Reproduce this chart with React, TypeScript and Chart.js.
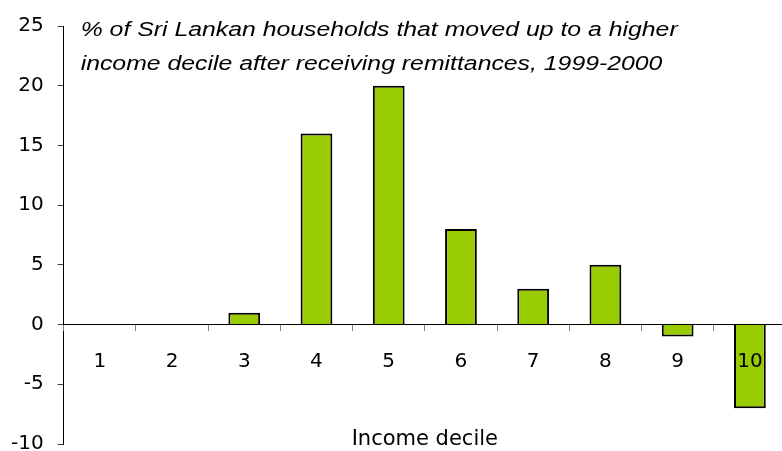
import React, { useEffect, useRef } from 'react';
import { Chart, registerables } from 'chart.js';

Chart.register(...registerables);

const categories = ['1', '2', '3', '4', '5', '6', '7', '8', '9', '10'];
const values = [0, 0, 1, 16, 20, 8, 3, 5, -1, -7];
const yMin = -10;
const yMax = 25;
const yStep = 5;
const titleLines = [
  '% of Sri Lankan households that moved up to a higher',
  'income decile after receiving remittances, 1999-2000',
];
const xTitle = 'Income decile';

const chartTexts = {
  id: 'chartTexts',
  afterDraw(chart: any) {
    const ctx = chart.ctx;
    const area = chart.chartArea;
    ctx.save();
    ctx.font = 'italic 20px "Liberation Sans", Arial, sans-serif';
    ctx.fillStyle = '#000';
    ctx.textBaseline = 'alphabetic';
    ctx.textAlign = 'left';
    ctx.translate(area.left + 17, area.top);
    ctx.scale(1.24, 1);
    titleLines.forEach((line, i) => ctx.fillText(line, 0, 10 + i * 34));
    ctx.restore();

    ctx.save();
    ctx.font = '21px "DejaVu Sans"';
    ctx.fillStyle = '#000';
    ctx.textAlign = 'center';
    ctx.textBaseline = 'middle';
    ctx.fillText(xTitle, (area.left + area.right) / 2, area.bottom - 4);
    ctx.restore();
  },
};

export default function App() {
  const ref = useRef<HTMLCanvasElement | null>(null);

  useEffect(() => {
    if (!ref.current) return;
    const chart = new Chart(ref.current, {
      type: 'bar',
      data: {
        labels: categories,
        datasets: [
          {
            data: values,
            backgroundColor: '#99CC00',
            borderColor: '#000000',
            borderWidth: 2,
            barPercentage: 0.44,
            categoryPercentage: 1,
          },
        ],
      },
      options: {
        animation: false,
        responsive: false,
        devicePixelRatio: 1,
        layout: { padding: { left: 10, right: 4, top: 25, bottom: 12 } },
        plugins: {
          legend: { display: false },
          tooltip: { enabled: false },
        },
        scales: {
          x: {
            type: 'category',
            position: { y: 0 } as any,
            offset: true,
            grid: {
              offset: true,
              drawOnChartArea: false,
              drawTicks: true,
              tickLength: 6,
              color: '#808080',
              lineWidth: 1,
              z: 1,
            },
            border: { display: true, color: '#000000', width: 1, z: 1 },
            ticks: {
              font: { family: '"DejaVu Sans"', size: 20 },
              color: '#000000',
              padding: 19,
              maxRotation: 0,
              autoSkip: false,
              z: 1,
            },
          },
          y: {
            min: yMin,
            max: yMax,
            ticks: {
              stepSize: yStep,
              font: { family: '"DejaVu Sans"', size: 20 },
              color: '#000000',
              padding: 14,
            },
            grid: {
              drawOnChartArea: false,
              drawTicks: true,
              tickLength: 6,
              color: '#404040',
            },
            border: { display: true, color: '#000000', width: 1 },
          },
        },
      },
      plugins: [chartTexts],
    });
    return () => chart.destroy();
  }, []);

  return (
    <div
      style={{
        position: 'fixed',
        left: 0,
        top: 0,
        width: 782,
        height: 451,
        overflow: 'hidden',
        background: '#ffffff',
      }}
    >
      <canvas
        ref={ref}
        width={803}
        height={470}
        style={{ display: 'block', marginLeft: -13 }}
      />
    </div>
  );
}
